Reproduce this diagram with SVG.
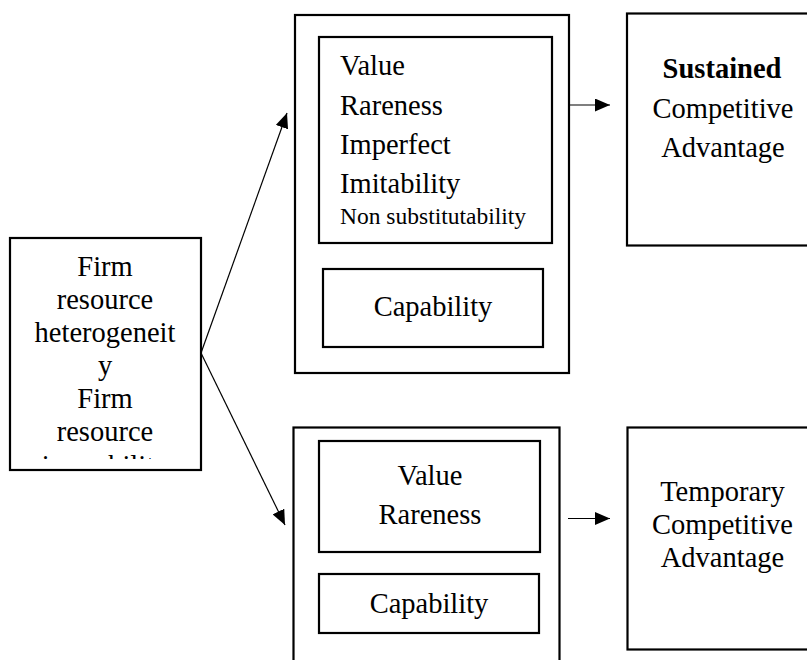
<svg xmlns="http://www.w3.org/2000/svg" width="807" height="660" viewBox="0 0 807 660">
  <style>
    .box { fill: #ffffff; stroke: #000000; stroke-width: 2.2; }
    .t { font-family: "Liberation Serif", "Times New Roman", serif; font-size: 28.5px; fill: #000000; }
    .mid { text-anchor: middle; }
    .small { font-size: 23.5px; }
    .b { font-weight: bold; }
    .link { stroke: #000000; stroke-width: 1.2; fill: none; marker-end: url(#head); }
  </style>
  <defs>
    <marker id="head" viewBox="0 0 15 13" refX="15" refY="6.5" markerWidth="15" markerHeight="13" markerUnits="userSpaceOnUse" orient="auto">
      <path d="M0,0 L15,6.5 L0,13 z" fill="#000000"/>
    </marker>
    <clipPath id="leftClip">
      <rect x="11" y="239" width="189" height="220"/>
    </clipPath>
  </defs>

  <rect width="807" height="660" fill="#ffffff"/>

  <!-- source node -->
  <g id="firm-resources">
    <rect class="box" x="10" y="238" width="191" height="232"/>
    <g clip-path="url(#leftClip)">
      <text class="t mid" x="105" y="276">Firm</text>
      <text class="t mid" x="105" y="309">resource</text>
      <text class="t mid" x="105" y="342">heterogeneit</text>
      <text class="t mid" x="105" y="375">y</text>
      <text class="t mid" x="105" y="408">Firm</text>
      <text class="t mid" x="105" y="441">resource</text>
      <text class="t mid" x="105" y="475">immobility</text>
    </g>
  </g>

  <!-- upper path: full set of attributes -->
  <g id="vrin-group">
    <rect class="box" x="295" y="15" width="274" height="358"/>
    <g id="vrin-attributes">
      <rect class="box" x="319" y="37" width="233" height="206"/>
      <text class="t" x="340" y="75">Value</text>
      <text class="t" x="340" y="114.5">Rareness</text>
      <text class="t" x="340" y="154">Imperfect</text>
      <text class="t" x="340" y="193">Imitability</text>
      <text class="t small" x="340" y="224">Non substitutability</text>
    </g>
    <g id="vrin-capability">
      <rect class="box" x="323" y="269" width="220" height="78"/>
      <text class="t mid" x="433" y="316">Capability</text>
    </g>
  </g>

  <g id="sustained-advantage">
    <rect class="box" x="627" y="13.5" width="190" height="232"/>
    <text class="t mid b" x="722" y="78">Sustained</text>
    <text class="t mid" x="723" y="118">Competitive</text>
    <text class="t mid" x="723" y="157">Advantage</text>
  </g>

  <!-- lower path: value and rareness only -->
  <g id="vr-group">
    <rect class="box" x="293.5" y="427.5" width="266" height="250"/>
    <g id="vr-attributes">
      <rect class="box" x="319" y="441" width="221" height="111"/>
      <text class="t mid" x="430" y="485">Value</text>
      <text class="t mid" x="430" y="524">Rareness</text>
    </g>
    <g id="vr-capability">
      <rect class="box" x="319" y="574" width="220" height="59"/>
      <text class="t mid" x="429" y="613">Capability</text>
    </g>
  </g>

  <g id="temporary-advantage">
    <rect class="box" x="627.5" y="427.5" width="190" height="222"/>
    <text class="t mid" x="722.5" y="501">Temporary</text>
    <text class="t mid" x="722.5" y="534">Competitive</text>
    <text class="t mid" x="722.5" y="567">Advantage</text>
  </g>

  <!-- connectors -->
  <g id="connectors">
    <line class="link" x1="201" y1="353" x2="287" y2="113"/>
    <line class="link" x1="201" y1="353" x2="285" y2="525"/>
    <line class="link" x1="569" y1="105" x2="610" y2="105"/>
    <line class="link" x1="568" y1="518.5" x2="610" y2="518.5"/>
  </g>
</svg>
